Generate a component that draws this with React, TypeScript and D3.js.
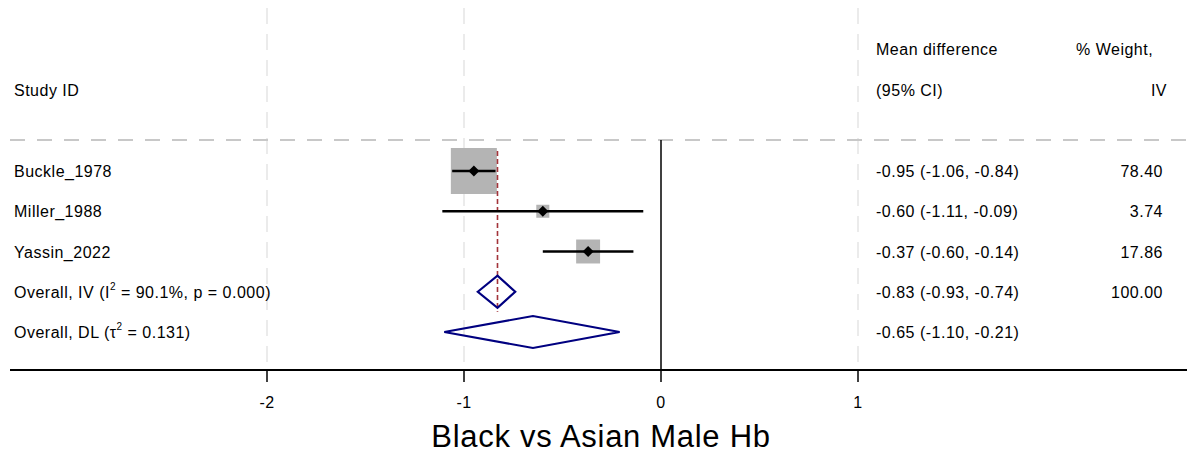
import React, { useEffect, useRef } from 'react'
import * as d3 from 'd3'

const studies = ['Buckle_1978', 'Miller_1988', 'Yassin_2022']
const estimates = [-0.95, -0.6, -0.37]
const lowerCI = [-1.06, -1.11, -0.6]
const upperCI = [-0.84, -0.09, -0.14]
const weights = [78.4, 3.74, 17.86]
const pooledIV = [-0.83, -0.93, -0.74]
const pooledDL = [-0.65, -1.1, -0.21]
const xTicks = [-2, -1, 0, 1]
const effectLabels = [
  '-0.95 (-1.06, -0.84)',
  '-0.60 (-1.11, -0.09)',
  '-0.37 (-0.60, -0.14)',
  '-0.83 (-0.93, -0.74)',
  '-0.65 (-1.10, -0.21)',
]
const weightLabels = ['78.40', '3.74', '17.86', '100.00', '']

function ForestPlot() {
  const ref = useRef<SVGSVGElement>(null)

  useEffect(() => {
    const width = 1187
    const height = 454
    const svg = d3.select(ref.current)
    svg.selectAll('*').remove()
    svg.attr('width', width).attr('height', height)
      .style('font-family', '"Liberation Sans", Arial, sans-serif')

    const x = d3.scaleLinear().domain([-2, 1]).range([267, 858])
    const y = d3.scaleLinear().domain([0, 4]).range([171, 332])
    const axisY = 370
    const headerY = 140
    const side = d3.scaleSqrt().domain([0, 78.4]).range([3.8, 46])

    // light dashed gridlines
    svg.append('g').selectAll('line')
      .data(xTicks.filter(t => t !== 0))
      .join('line')
      .attr('x1', d => x(d)).attr('x2', d => x(d))
      .attr('y1', 8).attr('y2', axisY)
      .attr('stroke', '#ebebeb').attr('stroke-width', 2)
      .attr('stroke-dasharray', '16,10')

    svg.append('line')
      .attr('x1', 10).attr('x2', width).attr('y1', headerY).attr('y2', headerY)
      .attr('stroke', '#c8c8c8').attr('stroke-width', 2)
      .attr('stroke-dasharray', '15,12')

    // zero line
    svg.append('line')
      .attr('x1', x(0)).attr('x2', x(0)).attr('y1', headerY).attr('y2', axisY)
      .attr('stroke', '#000').attr('stroke-width', 1.5)

    // weight boxes
    svg.append('g').selectAll('rect')
      .data(studies)
      .join('rect')
      .attr('x', (d, i) => x(estimates[i]) - side(weights[i]) / 2)
      .attr('y', (d, i) => y(i) - side(weights[i]) / 2)
      .attr('width', (d, i) => side(weights[i]))
      .attr('height', (d, i) => side(weights[i]))
      .attr('fill', '#b4b4b4')

    // pooled line
    svg.append('line')
      .attr('x1', x(pooledIV[0])).attr('x2', x(pooledIV[0]))
      .attr('y1', y(0) - 20).attr('y2', y(3) + 20)
      .attr('stroke', '#a3333a').attr('stroke-width', 1.6)
      .attr('stroke-dasharray', '5,3')

    // CI lines
    svg.append('g').selectAll('line')
      .data(studies)
      .join('line')
      .attr('x1', (d, i) => x(lowerCI[i])).attr('x2', (d, i) => x(upperCI[i]))
      .attr('y1', (d, i) => y(i)).attr('y2', (d, i) => y(i))
      .attr('stroke', '#000').attr('stroke-width', 2.5)

    // point markers
    svg.append('g').selectAll('path')
      .data(studies)
      .join('path')
      .attr('d', (d, i) => {
        const cx = x(estimates[i]), cy = y(i), r = 5.5
        return `M${cx - r},${cy}L${cx},${cy - r}L${cx + r},${cy}L${cx},${cy + r}Z`
      })
      .attr('fill', '#000')

    // pooled diamonds
    const diamond = (p: number[], row: number) => {
      const cy = y(row), h = 16
      return `M${x(p[1])},${cy}L${x(p[0])},${cy - h}L${x(p[2])},${cy}L${x(p[0])},${cy + h}Z`
    }
    svg.append('path').attr('d', diamond(pooledIV, 3))
      .attr('fill', 'none').attr('stroke', '#000080').attr('stroke-width', 2.2)
    svg.append('path').attr('d', diamond(pooledDL, 4))
      .attr('fill', 'none').attr('stroke', '#000080').attr('stroke-width', 2.2)

    // axis
    const axis = svg.append('g').attr('transform', `translate(0,${axisY})`)
    axis.append('line').attr('x1', 10).attr('x2', width).attr('stroke', '#000').attr('stroke-width', 2)
    axis.selectAll('line.tick')
      .data(xTicks)
      .join('line')
      .attr('class', 'tick')
      .attr('x1', d => x(d)).attr('x2', d => x(d))
      .attr('y1', 0).attr('y2', 12)
      .attr('stroke', '#000').attr('stroke-width', 1.5)
    axis.selectAll('text')
      .data(xTicks)
      .join('text')
      .attr('x', d => x(d)).attr('y', 38)
      .attr('text-anchor', 'middle')
      .attr('font-size', 16)
      .attr('letter-spacing', 0.5)
      .text(d => String(d))

    svg.append('text')
      .attr('x', 601).attr('y', 447)
      .attr('text-anchor', 'middle')
      .attr('font-size', 31)
      .attr('letter-spacing', 0.7)
      .text('Black vs Asian Male Hb')

    // headers
    const txt = (tx: number, ty: number, s: string, anchor = 'start') =>
      svg.append('text').attr('x', tx).attr('y', ty).attr('font-size', 16)
        .attr('letter-spacing', 0.5)
        .attr('text-anchor', anchor).text(s)
    txt(14, 96, 'Study ID')
    txt(876, 55, 'Mean difference')
    txt(876, 96, '(95% CI)')
    txt(1076, 55, '% Weight,')
    txt(1167, 96, 'IV', 'end')

    // study labels
    studies.forEach((s, i) => txt(14, y(i) + 6, s))
    const sup = (ty: number, a: string, b: string) => {
      const t = svg.append('text').attr('x', 14).attr('y', ty).attr('font-size', 16)
        .attr('letter-spacing', 0.5)
      t.append('tspan').text(a)
      t.append('tspan').attr('font-size', 10).attr('dy', -8).text('2')
      t.append('tspan').attr('dy', 8).text(b)
    }
    sup(y(3) + 6, 'Overall, IV (I', ' = 90.1%, p = 0.000)')
    sup(y(4) + 6, 'Overall, DL (\u03c4', ' = 0.131)')

    effectLabels.forEach((s, i) => txt(876, y(i) + 6, s))
    weightLabels.forEach((s, i) => txt(1163, y(i) + 6, s, 'end'))
  }, [])

  return <svg ref={ref} style={{ display: 'block' }} />
}

export default function App() {
  return (
    <div style={{ position: 'absolute', left: 0, top: 0 }}>
      <ForestPlot />
    </div>
  )
}
